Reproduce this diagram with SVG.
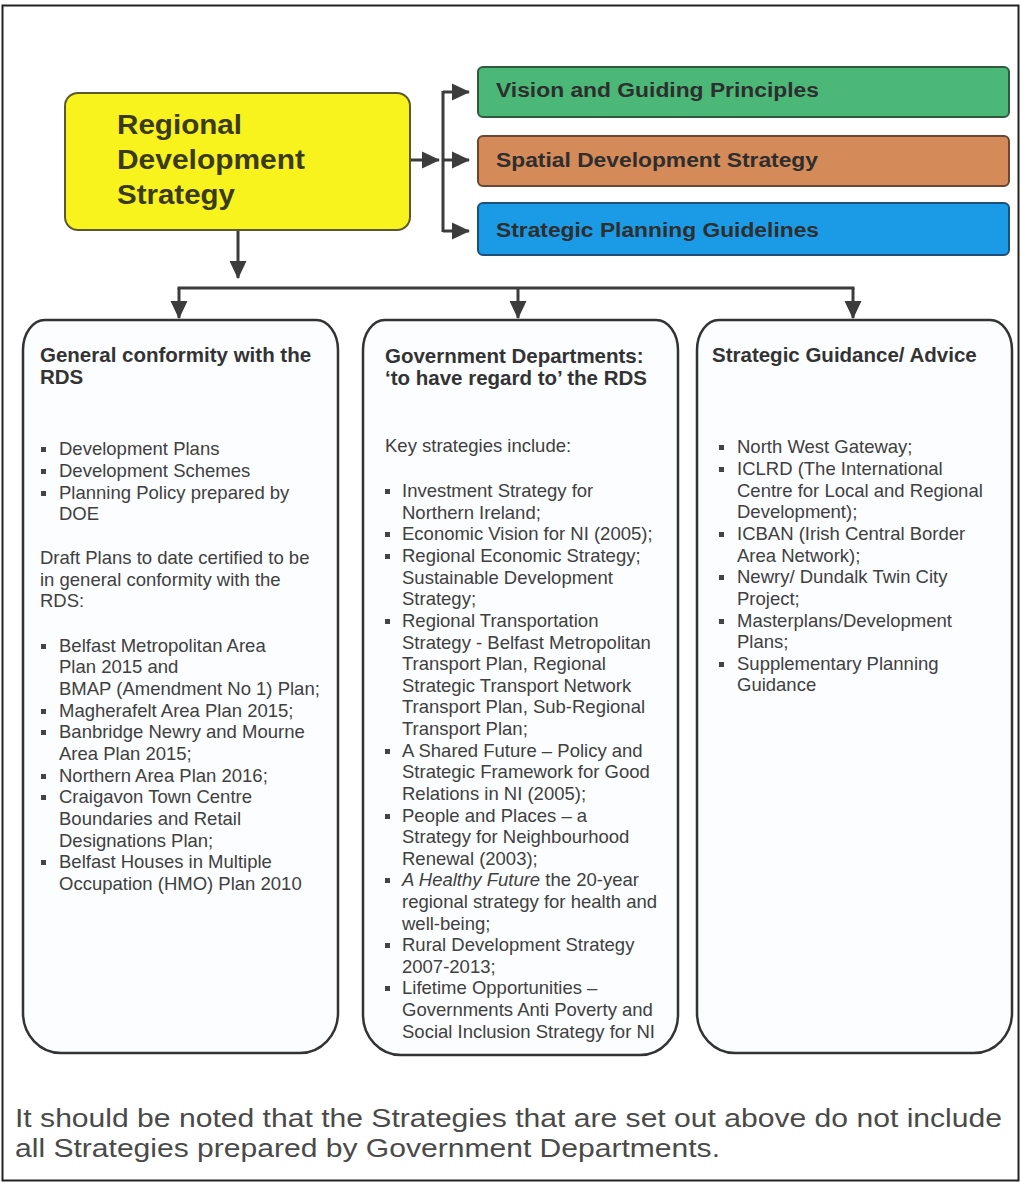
<svg xmlns="http://www.w3.org/2000/svg" width="1021" height="1183" viewBox="0 0 1021 1183">
<style>
text{font-family:"Liberation Sans",Arial,sans-serif}
.title{font-size:27px;font-weight:bold;fill:#3a3a1e}
.lbl{font-size:20px;font-weight:bold;fill:#2e2e2e}
.hdr{font-size:20.5px;font-weight:bold;fill:#333}
.body{font-size:18.5px;fill:#404040}
.note{font-size:26px;fill:#4a4a4a}
.conn{fill:none;stroke:#3c3c3c;stroke-width:3}
.col{fill:#fbfdfe;stroke:#333;stroke-width:2.5}
.b{fill:#444}
</style>
<defs>
<marker id="ah" markerUnits="userSpaceOnUse" markerWidth="18" markerHeight="18" viewBox="0 0 18 18" refX="17" refY="9" orient="auto">
<path d="M0,0.5 L18,9 L0,17.5 Z" fill="#3c3c3c"/>
</marker>
</defs>
<rect x="2.5" y="5.5" width="1016" height="1175" fill="#ffffff" stroke="#222" stroke-width="2"/>

<g id="connectors">
<path class="conn" d="M410,160 H439" marker-end="url(#ah)"/>
<path class="conn" d="M443,91 V232"/>
<path class="conn" d="M443,92 H469" marker-end="url(#ah)"/>
<path class="conn" d="M443,160 H469" marker-end="url(#ah)"/>
<path class="conn" d="M443,231 H469" marker-end="url(#ah)"/>
<path class="conn" d="M238,230 V278" marker-end="url(#ah)"/>
<path class="conn" d="M177.5,288 H854.5"/>
<path class="conn" d="M179,288 V318" marker-end="url(#ah)"/>
<path class="conn" d="M518,288 V318" marker-end="url(#ah)"/>
<path class="conn" d="M853,288 V318" marker-end="url(#ah)"/>
</g>

<g id="rds">
<rect x="65" y="93" width="345" height="137" rx="13" fill="#f8f31c" stroke="#5c5830" stroke-width="2"/>
<text class="title" x="117" y="134" textLength="125" lengthAdjust="spacingAndGlyphs">Regional</text>
<text class="title" x="117" y="169" textLength="188" lengthAdjust="spacingAndGlyphs">Development</text>
<text class="title" x="117" y="204" textLength="118" lengthAdjust="spacingAndGlyphs">Strategy</text>
</g>

<g id="vision">
<rect x="478" y="67" width="531" height="50" rx="5" fill="#4bb878" stroke="#2f5a3e" stroke-width="2"/>
<text class="lbl" x="496" y="97" textLength="323" lengthAdjust="spacingAndGlyphs">Vision and Guiding Principles</text>
</g>
<g id="spatial">
<rect x="478" y="136" width="531" height="50" rx="5" fill="#d58a59" stroke="#6b4630" stroke-width="2"/>
<text class="lbl" x="496" y="167" textLength="322" lengthAdjust="spacingAndGlyphs">Spatial Development Strategy</text>
</g>
<g id="spg">
<rect x="478" y="203" width="531" height="52" rx="5" fill="#1b9be6" stroke="#1d4f78" stroke-width="2"/>
<text class="lbl" x="496" y="237" textLength="323" lengthAdjust="spacingAndGlyphs">Strategic Planning Guidelines</text>
</g>

<g id="conformity">
<path class="col" d="M45,320 H316 A22,30 0 0 1 338,350 V1013 A38,40 0 0 1 300,1053 H61 A38,40 0 0 1 23,1013 V350 A22,30 0 0 1 45,320 Z"/>
<text class="hdr" x="40" y="362">General conformity with the</text>
<text class="hdr" x="40" y="384">RDS</text>
<rect class="b" x="41" y="447" width="5" height="5"/>
<rect class="b" x="41" y="469" width="5" height="5"/>
<rect class="b" x="41" y="491" width="5" height="5"/>
<rect class="b" x="41" y="644" width="5" height="5"/>
<rect class="b" x="41" y="709" width="5" height="5"/>
<rect class="b" x="41" y="730" width="5" height="5"/>
<rect class="b" x="41" y="774" width="5" height="5"/>
<rect class="b" x="41" y="795" width="5" height="5"/>
<rect class="b" x="41" y="860" width="5" height="5"/>
<text class="body" x="59" y="455">Development Plans</text>
<text class="body" x="59" y="477">Development Schemes</text>
<text class="body" x="59" y="499">Planning Policy prepared by</text>
<text class="body" x="59" y="520">DOE</text>
<text class="body" x="40" y="564">Draft Plans to date certified to be</text>
<text class="body" x="40" y="586">in general conformity with the</text>
<text class="body" x="40" y="607">RDS:</text>
<text class="body" x="59" y="652">Belfast Metropolitan Area</text>
<text class="body" x="59" y="673">Plan 2015 and</text>
<text class="body" x="59" y="695">BMAP (Amendment No 1) Plan;</text>
<text class="body" x="59" y="717">Magherafelt Area Plan 2015;</text>
<text class="body" x="59" y="738">Banbridge Newry and Mourne</text>
<text class="body" x="59" y="760">Area Plan 2015;</text>
<text class="body" x="59" y="782">Northern Area Plan 2016;</text>
<text class="body" x="59" y="803">Craigavon Town Centre</text>
<text class="body" x="59" y="825">Boundaries and Retail</text>
<text class="body" x="59" y="847">Designations Plan;</text>
<text class="body" x="59" y="868">Belfast Houses in Multiple</text>
<text class="body" x="59" y="890">Occupation (HMO) Plan 2010</text>
</g>

<g id="departments">
<path class="col" d="M385,320 H656 A22,30 0 0 1 678,350 V1015 A38,40 0 0 1 640,1055 H401 A38,40 0 0 1 363,1015 V350 A22,30 0 0 1 385,320 Z"/>
<text class="hdr" x="385" y="363">Government Departments:</text>
<text class="hdr" x="385" y="385">‘to have regard to’ the RDS</text>
<text class="body" x="385" y="452">Key strategies include:</text>
<rect class="b" x="385" y="489" width="5" height="5"/>
<rect class="b" x="385" y="532" width="5" height="5"/>
<rect class="b" x="385" y="554" width="5" height="5"/>
<rect class="b" x="385" y="619" width="5" height="5"/>
<rect class="b" x="385" y="749" width="5" height="5"/>
<rect class="b" x="385" y="814" width="5" height="5"/>
<rect class="b" x="385" y="878" width="5" height="5"/>
<rect class="b" x="385" y="943" width="5" height="5"/>
<rect class="b" x="385" y="986" width="5" height="5"/>
<text class="body" x="402" y="497">Investment Strategy for</text>
<text class="body" x="402" y="519">Northern Ireland;</text>
<text class="body" x="402" y="540">Economic Vision for NI (2005);</text>
<text class="body" x="402" y="562">Regional Economic Strategy;</text>
<text class="body" x="402" y="584">Sustainable Development</text>
<text class="body" x="402" y="605">Strategy;</text>
<text class="body" x="402" y="627">Regional Transportation</text>
<text class="body" x="402" y="649">Strategy - Belfast Metropolitan</text>
<text class="body" x="402" y="670">Transport Plan, Regional</text>
<text class="body" x="402" y="692">Strategic Transport Network</text>
<text class="body" x="402" y="713">Transport Plan, Sub-Regional</text>
<text class="body" x="402" y="735">Transport Plan;</text>
<text class="body" x="402" y="757">A Shared Future – Policy and</text>
<text class="body" x="402" y="778">Strategic Framework for Good</text>
<text class="body" x="402" y="800">Relations in NI (2005);</text>
<text class="body" x="402" y="822">People and Places – a</text>
<text class="body" x="402" y="843">Strategy for Neighbourhood</text>
<text class="body" x="402" y="865">Renewal (2003);</text>
<text class="body" x="402" y="886"><tspan font-style="italic">A Healthy Future</tspan> the 20-year</text>
<text class="body" x="402" y="908">regional strategy for health and</text>
<text class="body" x="402" y="930">well-being;</text>
<text class="body" x="402" y="951">Rural Development Strategy</text>
<text class="body" x="402" y="973">2007-2013;</text>
<text class="body" x="402" y="994">Lifetime Opportunities –</text>
<text class="body" x="402" y="1016">Governments Anti Poverty and</text>
<text class="body" x="402" y="1038">Social Inclusion Strategy for NI</text>
</g>

<g id="guidance">
<path class="col" d="M719,320 H990 A22,30 0 0 1 1012,350 V1013 A38,40 0 0 1 974,1053 H735 A38,40 0 0 1 697,1013 V350 A22,30 0 0 1 719,320 Z"/>
<text class="hdr" x="712" y="362">Strategic Guidance/ Advice</text>
<rect class="b" x="719" y="445" width="5" height="5"/>
<rect class="b" x="719" y="467" width="5" height="5"/>
<rect class="b" x="719" y="532" width="5" height="5"/>
<rect class="b" x="719" y="575" width="5" height="5"/>
<rect class="b" x="719" y="619" width="5" height="5"/>
<rect class="b" x="719" y="662" width="5" height="5"/>
<text class="body" x="737" y="453">North West Gateway;</text>
<text class="body" x="737" y="475">ICLRD (The International</text>
<text class="body" x="737" y="497">Centre for Local and Regional</text>
<text class="body" x="737" y="518">Development);</text>
<text class="body" x="737" y="540">ICBAN (Irish Central Border</text>
<text class="body" x="737" y="562">Area Network);</text>
<text class="body" x="737" y="583">Newry/ Dundalk Twin City</text>
<text class="body" x="737" y="605">Project;</text>
<text class="body" x="737" y="627">Masterplans/Development</text>
<text class="body" x="737" y="648">Plans;</text>
<text class="body" x="737" y="670">Supplementary Planning</text>
<text class="body" x="737" y="691">Guidance</text>
</g>

<g id="note">
<text class="note" x="15" y="1127" textLength="987" lengthAdjust="spacingAndGlyphs">It should be noted that the Strategies that are set out above do not include</text>
<text class="note" x="15" y="1157" textLength="705" lengthAdjust="spacingAndGlyphs">all Strategies prepared by Government Departments.</text>
</g>
</svg>
